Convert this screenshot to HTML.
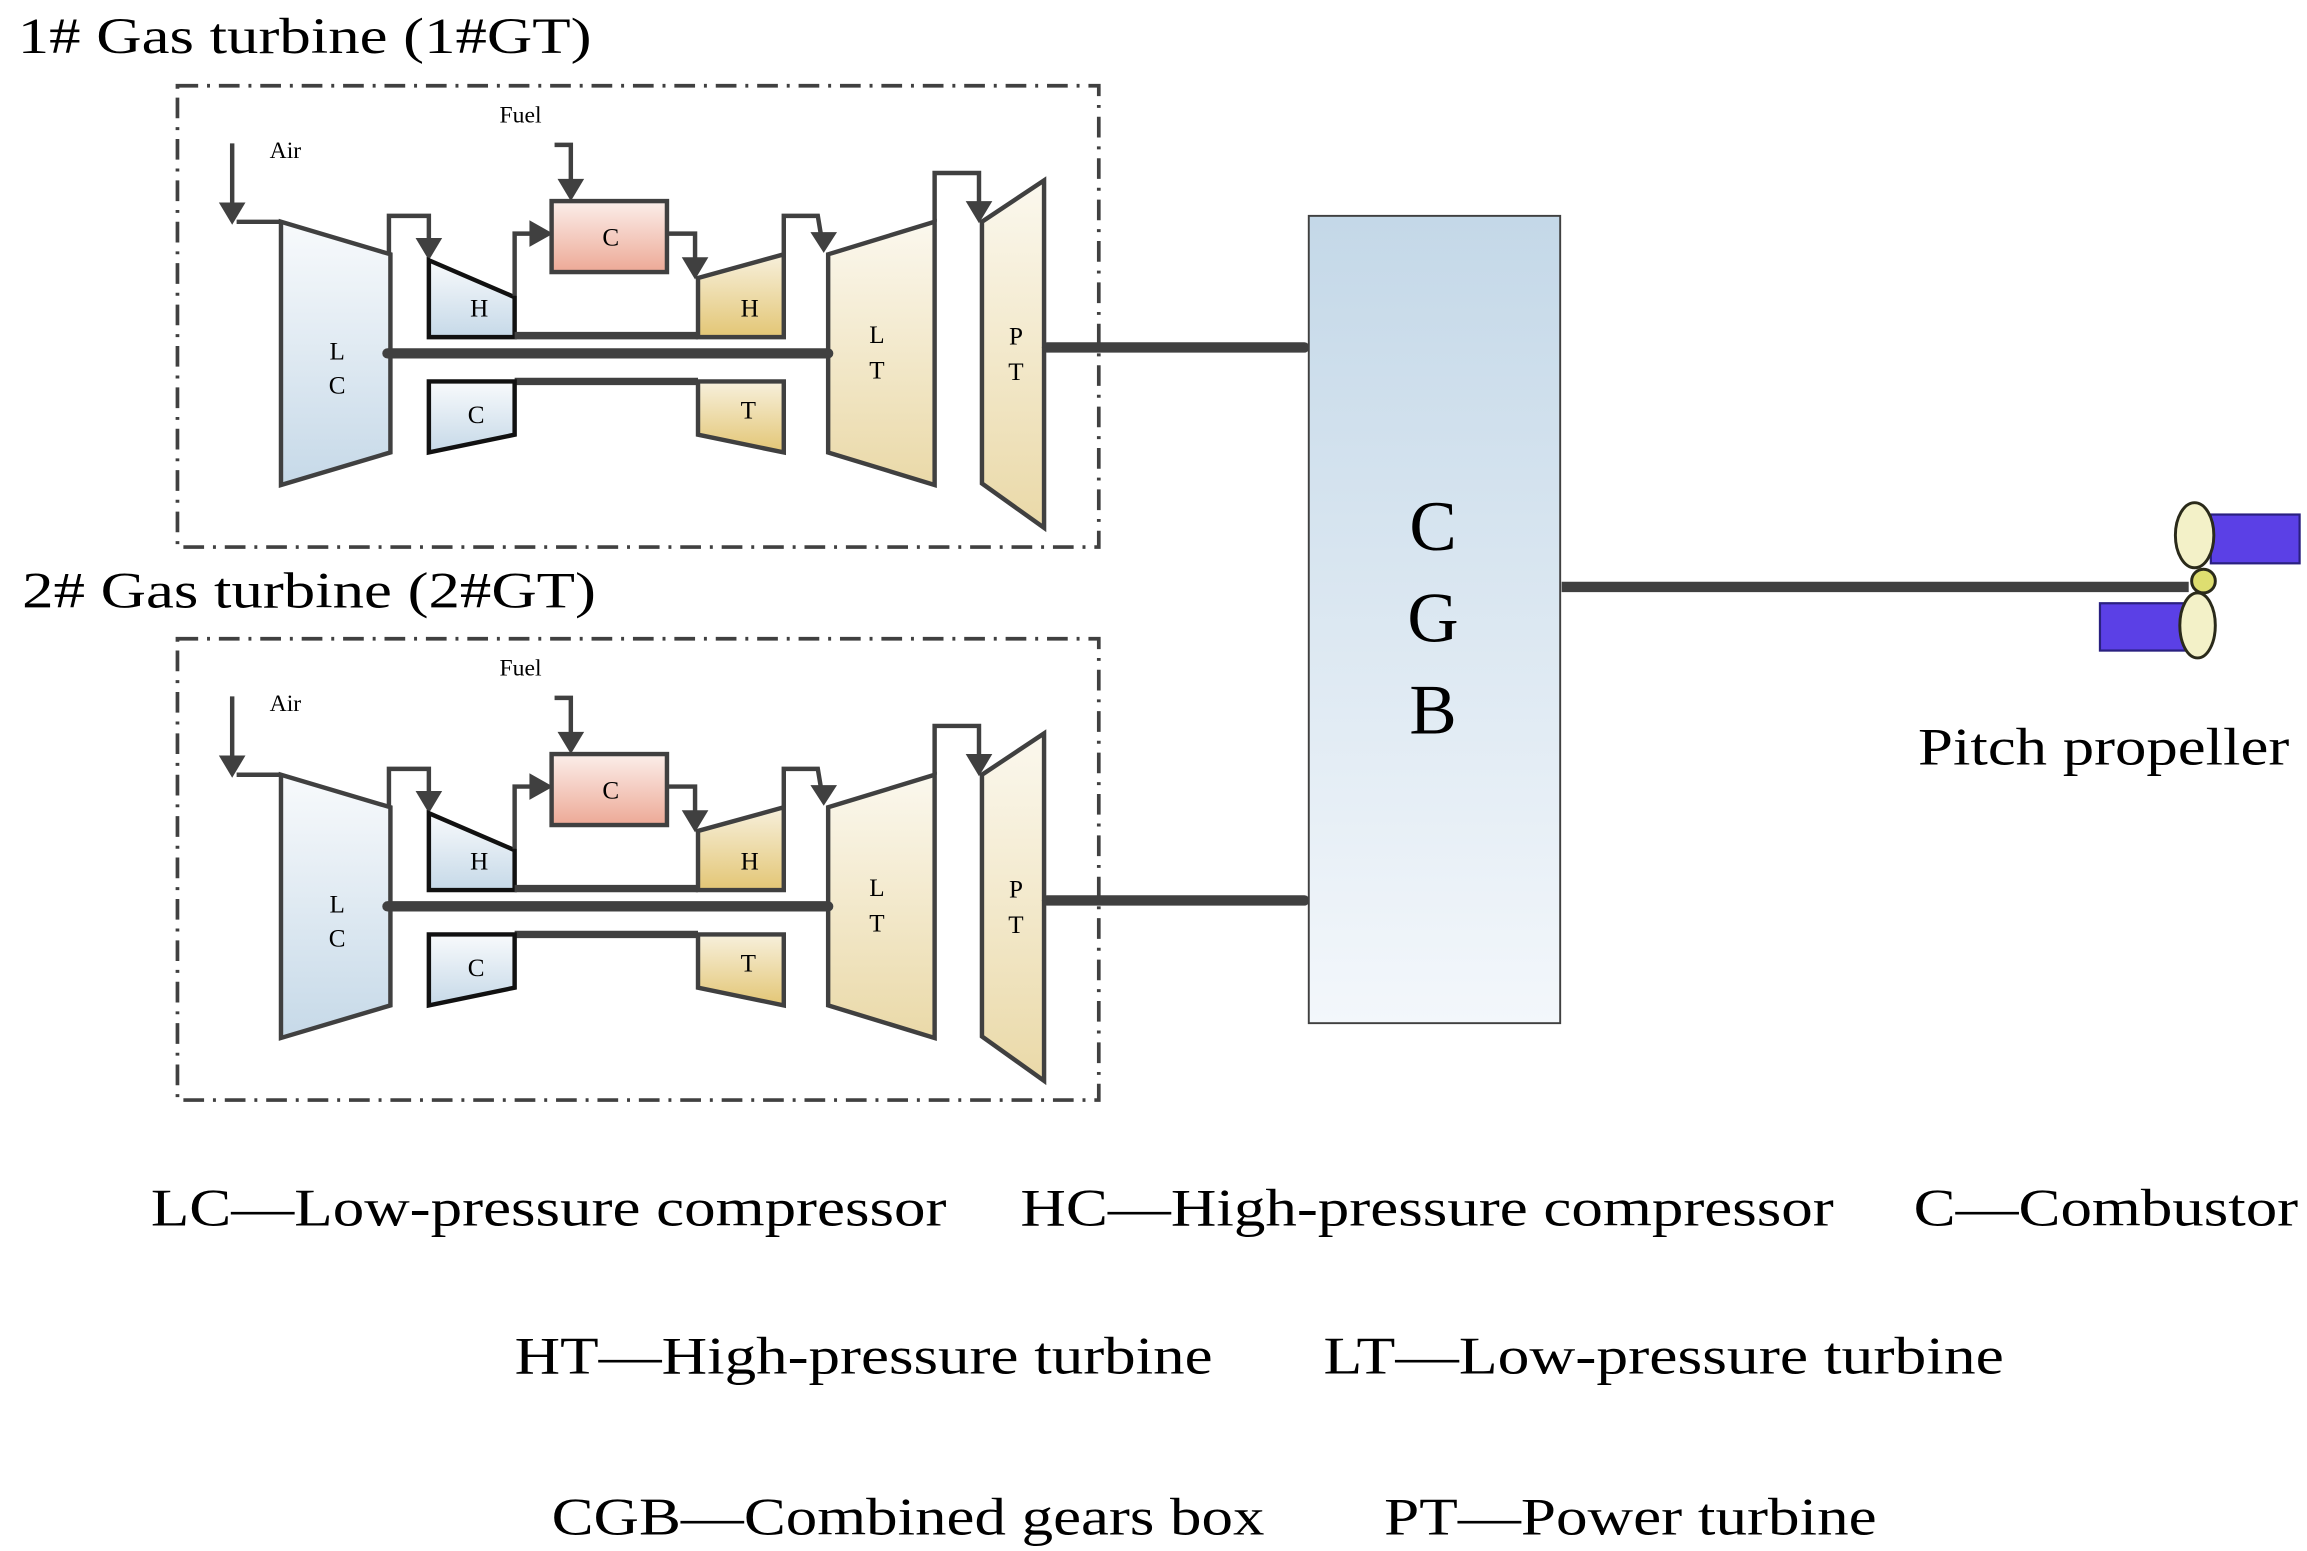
<!DOCTYPE html>
<html><head><meta charset="utf-8"><style>html,body{margin:0;padding:0;background:#fff}svg{display:block}</style></head><body>
<svg width="2307" height="1551" viewBox="0 0 1560 1049" preserveAspectRatio="none" xmlns="http://www.w3.org/2000/svg" font-family="Liberation Serif, serif">
<defs>
<linearGradient id="blue" x1="0" y1="0" x2="0" y2="1"><stop offset="0" stop-color="#f8fafc"/><stop offset="1" stop-color="#c6d9e8"/></linearGradient>
<linearGradient id="gold" x1="0" y1="0" x2="0" y2="1"><stop offset="0" stop-color="#fbf8ee"/><stop offset="1" stop-color="#ead9a8"/></linearGradient>
<linearGradient id="gold2" x1="0" y1="0" x2="0" y2="1"><stop offset="0" stop-color="#f7f0dc"/><stop offset="1" stop-color="#e3c675"/></linearGradient>
<linearGradient id="pink" x1="0" y1="0" x2="0" y2="1"><stop offset="0" stop-color="#fbeeea"/><stop offset="1" stop-color="#eda996"/></linearGradient>
<linearGradient id="cgb" x1="0" y1="0" x2="0" y2="1"><stop offset="0" stop-color="#c4d8e8"/><stop offset="1" stop-color="#f3f7fb"/></linearGradient>
<g id="gt" stroke="#404040" stroke-width="3" fill="none">
<rect x="120" y="58" width="623" height="312" stroke-width="2.5" stroke-dasharray="14,6,2,6"/>
<line x1="157" y1="97" x2="157" y2="140"/>
<polygon points="148,137 166,137 157,152" fill="#404040" stroke="none"/>
<polyline points="160,150 190,150" />
<polygon points="190,150 264,172 264,306 190,328" fill="url(#blue)"/>
<text x="228" y="243" font-size="17" fill="#000" stroke="none" text-anchor="middle">L</text>
<text x="228" y="266" font-size="17" fill="#000" stroke="none" text-anchor="middle">C</text>
<polyline points="263,172 263,146 290,146 290,163"/>
<polygon points="281,161 299,161 290,176" fill="#404040" stroke="none"/>
<polygon points="290,176 348,201 348,228 290,228" fill="url(#blue)" stroke="#111"/>
<text x="324" y="214" font-size="17" fill="#000" stroke="none" text-anchor="middle">H</text>
<polyline points="348,200 348,158 360,158"/>
<polygon points="358,149 374,158 358,167" fill="#404040" stroke="none"/>
<rect x="373" y="136" width="78" height="48" fill="url(#pink)"/>
<text x="413" y="166" font-size="17" fill="#000" stroke="none" text-anchor="middle">C</text>
<polyline points="375,98 386,98 386,122"/>
<polygon points="377,121 395,121 386,136" fill="#404040" stroke="none"/>
<text x="352" y="83" font-size="16" fill="#000" stroke="none" text-anchor="middle">Fuel</text>
<text x="193" y="107" font-size="16" fill="#000" stroke="none" text-anchor="middle">Air</text>
<polyline points="451,158 470,158 470,175"/>
<polygon points="461,174 479,174 470,189" fill="#404040" stroke="none"/>
<polygon points="472,188 530,172 530,228 472,228" fill="url(#gold2)"/>
<text x="507" y="214" font-size="17" fill="#000" stroke="none" text-anchor="middle">H</text>
<line x1="348" y1="227" x2="472" y2="227" stroke-width="5"/>
<polyline points="530,172 530,146 553,146 555,158"/>
<polygon points="548,157 566,157 557,171" fill="#404040" stroke="none"/>
<polygon points="560,172 632,150 632,328 560,306" fill="url(#gold)"/>
<text x="593" y="232" font-size="17" fill="#000" stroke="none" text-anchor="middle">L</text>
<text x="593" y="256" font-size="17" fill="#000" stroke="none" text-anchor="middle">T</text>
<polyline points="632,150 632,117 662,117 662,137"/>
<polygon points="653,136 671,136 662,151" fill="#404040" stroke="none"/>
<polygon points="664,150 706,122 706,357 664,327" fill="url(#gold)"/>
<text x="687" y="233" font-size="17" fill="#000" stroke="none" text-anchor="middle">P</text>
<text x="687" y="257" font-size="17" fill="#000" stroke="none" text-anchor="middle">T</text>
<line x1="262" y1="239" x2="560" y2="239" stroke-width="7" stroke-linecap="round"/>
<line x1="348" y1="258" x2="472" y2="258" stroke-width="5"/>
<polygon points="290,258 348,258 348,294 290,306" fill="url(#blue)" stroke="#111"/>
<text x="322" y="286" font-size="17" fill="#000" stroke="none" text-anchor="middle">C</text>
<polygon points="472,258 530,258 530,306 472,294" fill="url(#gold2)"/>
<text x="506" y="283" font-size="17" fill="#000" stroke="none" text-anchor="middle">T</text>
<line x1="708" y1="235" x2="882" y2="235" stroke-width="7" stroke-linecap="round"/>
</g>
</defs>
<text x="12" y="36" font-size="34" textLength="388" lengthAdjust="spacingAndGlyphs">1# Gas turbine (1#GT)</text>
<use href="#gt"/>
<text x="15" y="411" font-size="34" textLength="388" lengthAdjust="spacingAndGlyphs">2# Gas turbine (2#GT)</text>
<use href="#gt" transform="translate(0,374)"/>
<rect x="885" y="146" width="170" height="546" fill="url(#cgb)" stroke="#404040" stroke-width="1.3"/>
<text x="969" y="372" font-size="48" text-anchor="middle">C</text>
<text x="969" y="434" font-size="48" text-anchor="middle">G</text>
<text x="969" y="496" font-size="48" text-anchor="middle">B</text>
<line x1="1056" y1="397" x2="1480" y2="397" stroke="#404040" stroke-width="7"/>
<rect x="1495" y="348" width="60" height="33" fill="#5b40e6" stroke="#2a2080" stroke-width="1.5"/>
<rect x="1420" y="408" width="58" height="32" fill="#5b40e6" stroke="#2a2080" stroke-width="1.5"/>
<ellipse cx="1484" cy="362" rx="13" ry="22" fill="#f3f1c8" stroke="#2a2a1a" stroke-width="2"/>
<ellipse cx="1486" cy="423" rx="12" ry="22" fill="#f3f1c8" stroke="#2a2a1a" stroke-width="2"/>
<circle cx="1490" cy="393" r="8" fill="#dede70" stroke="#2a2a1a" stroke-width="2"/>
<text x="1297" y="517" font-size="36" textLength="251" lengthAdjust="spacingAndGlyphs">Pitch propeller</text>
<g font-size="36">
<text x="102" y="829" textLength="538" lengthAdjust="spacingAndGlyphs">LC—Low-pressure compressor</text>
<text x="690" y="829" textLength="550" lengthAdjust="spacingAndGlyphs">HC—High-pressure compressor</text>
<text x="1294" y="829" textLength="260" lengthAdjust="spacingAndGlyphs">C—Combustor</text>
<text x="348" y="929" textLength="472" lengthAdjust="spacingAndGlyphs">HT—High-pressure turbine</text>
<text x="895" y="929" textLength="460" lengthAdjust="spacingAndGlyphs">LT—Low-pressure turbine</text>
<text x="373" y="1038" textLength="482" lengthAdjust="spacingAndGlyphs">CGB—Combined gears box</text>
<text x="936" y="1038" textLength="333" lengthAdjust="spacingAndGlyphs">PT—Power turbine</text>
</g>
</svg>
</body></html>
